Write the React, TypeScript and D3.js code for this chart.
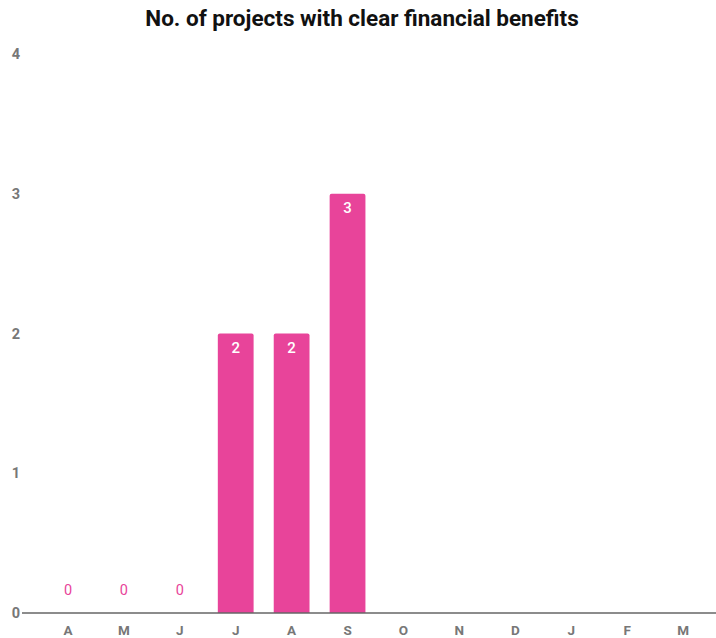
import React from "react";
import * as d3 from "d3";

const months = ["A", "M", "J", "J", "A", "S", "O", "N", "D", "J", "F", "M"];
const values: (number | null)[] = [0, 0, 0, 2, 2, 3, null, null, null, null, null, null];
const yTicks = [0, 1, 2, 3, 4];
const title = "No. of projects with clear financial benefits";

export default function App() {
  const W = 716, H = 638;
  const x = d3.scaleBand<number>().domain(months.map((_, i) => i)).range([40, 711]).paddingInner(0.36).paddingOuter(0.18);
  const y = d3.scaleLinear().domain([0, 4]).range([613, 54]);
  const color = "#E8449A";
  const font = "Roboto, 'Noto Sans', sans-serif";
  return (
    <svg width={W} height={H} style={{ position: "absolute", left: 0, top: 0, background: "#fff" }}>
      <text x={362} y={26} textAnchor="middle" fontFamily={font} fontWeight={700} fontSize={22.5} fill="#111">{title}</text>
      {yTicks.map(t => (
        <text key={t} x={16} y={y(t) + 5} textAnchor="middle" fontFamily={font} fontWeight={700} fontSize={14.5} fill="#777">{t}</text>
      ))}
      {values.map((v, i) => {
        if (v === null) return null;
        const cx = x(i)! + x.bandwidth() / 2;
        if (v === 0) {
          return <text key={i} x={cx} y={y(0) - 18} textAnchor="middle" fontFamily={font} fontSize={14.5} fill={color}>0</text>;
        }
        return (
          <g key={i}>
            <path d={`M${x(i)},${y(0)} V${y(v) + 2} Q${x(i)},${y(v)} ${x(i)! + 2},${y(v)} H${x(i)! + x.bandwidth() - 2} Q${x(i)! + x.bandwidth()},${y(v)} ${x(i)! + x.bandwidth()},${y(v) + 2} V${y(0)} Z`} fill={color} />
            <text x={cx} y={y(v) + 19} textAnchor="middle" fontFamily={font} fontWeight={500} fontSize={15} fill="#fff">{v}</text>
          </g>
        );
      })}
      <line x1={22} x2={716} y1={y(0)} y2={y(0)} stroke="#666" strokeWidth={1.5} />
      {months.map((m, i) => (
        <text key={i} x={x(i)! + x.bandwidth() / 2} y={635} textAnchor="middle" fontFamily={font} fontWeight={700} fontSize={13.5} fill="#777">{m}</text>
      ))}
    </svg>
  );
}
